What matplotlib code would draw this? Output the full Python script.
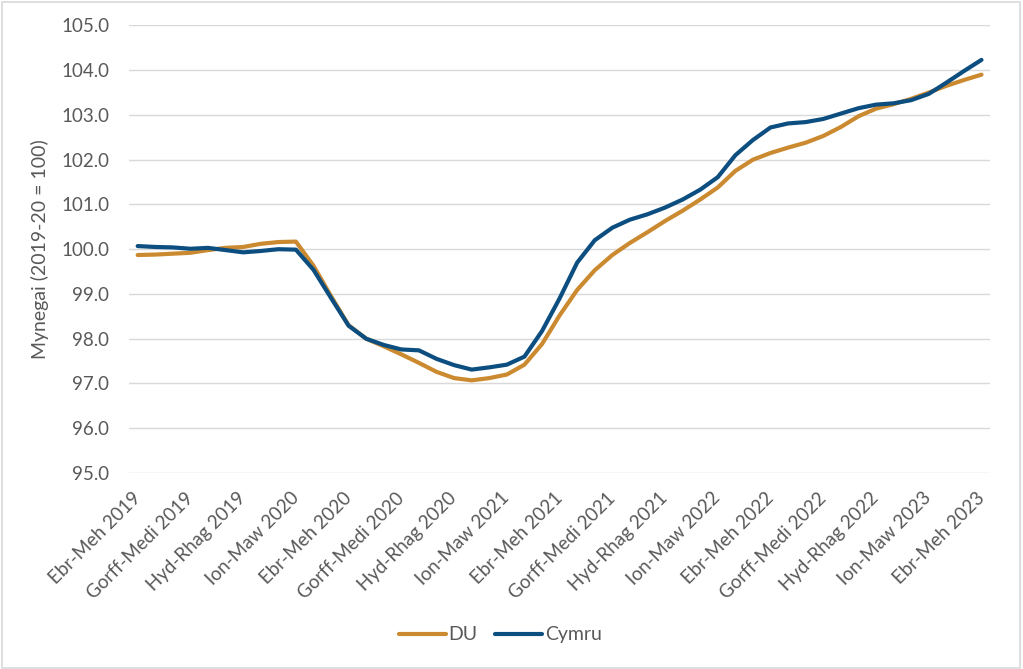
import matplotlib
matplotlib.use("Agg")
import matplotlib.pyplot as plt
from matplotlib.patches import Rectangle

plt.rcParams['font.family'] = ['Lato', 'DejaVu Sans']

# rolling 3-month periods, Ebr-Meh 2019 .. Ebr-Meh 2023 (monthly steps)
du = [99.87, 99.88, 99.90, 99.92, 99.98, 100.03, 100.05, 100.12, 100.16, 100.17,
      99.63, 98.95, 98.30, 98.00, 97.83, 97.65, 97.46, 97.26, 97.12, 97.07,
      97.12, 97.20, 97.42, 97.88, 98.52, 99.09, 99.53, 99.87, 100.14, 100.38,
      100.63, 100.86, 101.11, 101.38, 101.75, 102.00, 102.15, 102.27, 102.38, 102.53,
      102.73, 102.97, 103.14, 103.24, 103.36, 103.50, 103.65, 103.78, 103.90]
cymru = [100.07, 100.05, 100.04, 100.01, 100.03, 99.98, 99.93, 99.96, 100.00, 99.99,
         99.54, 98.91, 98.29, 98.00, 97.86, 97.76, 97.74, 97.55, 97.41, 97.31,
         97.36, 97.42, 97.60, 98.17, 98.90, 99.70, 100.20, 100.48, 100.66, 100.78,
         100.93, 101.11, 101.33, 101.61, 102.10, 102.44, 102.72, 102.81, 102.84, 102.91,
         103.03, 103.15, 103.23, 103.26, 103.33, 103.47, 103.72, 103.98, 104.23]

tick_labels = ["Ebr-Meh 2019", "Gorff-Medi 2019", "Hyd-Rhag 2019", "Ion-Maw 2020",
               "Ebr-Meh 2020", "Gorff-Medi 2020", "Hyd-Rhag 2020", "Ion-Maw 2021",
               "Ebr-Meh 2021", "Gorff-Medi 2021", "Hyd-Rhag 2021", "Ion-Maw 2022",
               "Ebr-Meh 2022", "Gorff-Medi 2022", "Hyd-Rhag 2022", "Ion-Maw 2023",
               "Ebr-Meh 2023"]

x = list(range(len(du)))
txt = '#595959'

fig = plt.figure(figsize=(10.23, 6.69), dpi=100)
ax = fig.add_axes([0.126, 0.293, 0.842, 0.669])

ax.plot(x, du, color='#CB8A2F', lw=3.0, label='DU', solid_capstyle='round')
ax.plot(x, cymru, color='#0D4E80', lw=3.0, label='Cymru', solid_capstyle='round')

ax.set_xlim(-0.5, len(du) - 0.5)
ax.set_ylim(95, 105)
ax.set_yticks([95 + i for i in range(11)])
ax.set_yticklabels(['%.1f' % (95 + i) for i in range(11)])
ax.set_xticks(x[::3])
ax.set_xticklabels(tick_labels, rotation=45, ha='right', va='center',
                   rotation_mode='anchor')
ax.tick_params(length=0, labelsize=13.5, colors=txt)
ax.tick_params(axis='y', pad=14)
ax.tick_params(axis='x', pad=16)
ax.grid(axis='y', color='#D9D9D9', lw=1)
ax.set_axisbelow(True)
for s in ax.spines.values():
    s.set_visible(False)
ax.set_ylabel('Mynegai (2019-20 = 100)', fontsize=14, color=txt, labelpad=9)

fig.legend(loc='center', bbox_to_anchor=(0.489, 0.051), ncol=2, frameon=False,
           fontsize=14, labelcolor=txt, handlelength=2.4, handletextpad=0.15,
           columnspacing=0.9)

fig.patches.append(Rectangle((0.002, 0.002), 0.995, 0.995, transform=fig.transFigure,
                             fill=False, edgecolor='#D9D9D9', lw=1.2))

fig.savefig('out.png', dpi=100)
